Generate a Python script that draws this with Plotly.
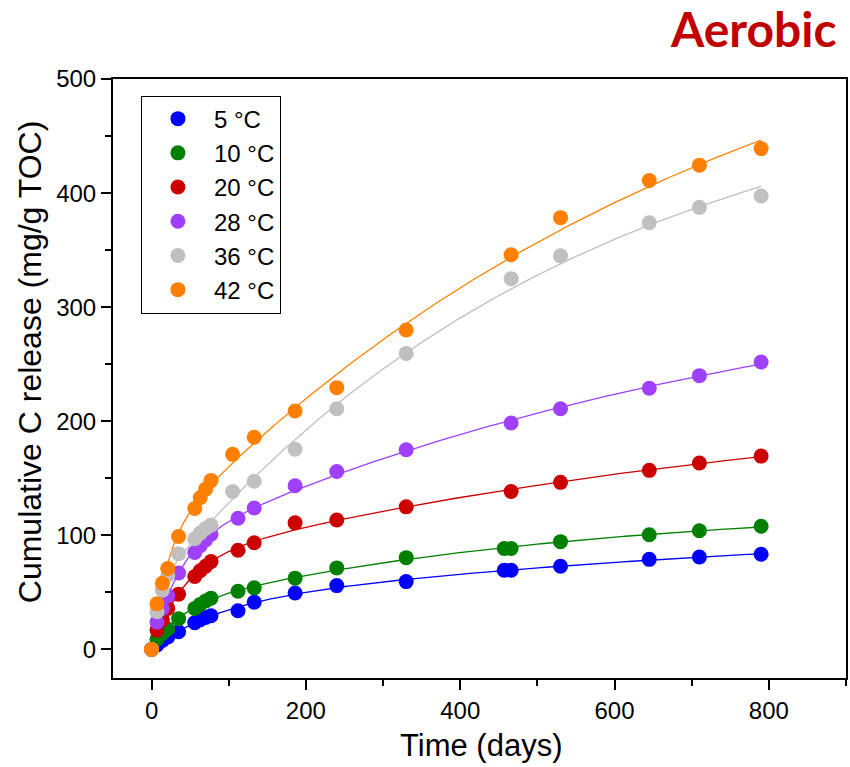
import numpy as np
import plotly.graph_objects as go

# Incubation days and cumulative C release (mg/g TOC) per temperature
days_5 = [0, 7, 14, 21, 35, 56, 63, 70, 77, 112, 133, 186, 240, 330, 457, 466, 530, 645, 710, 790]
c_5 = [0, 4, 8, 11, 15.5, 23.5, 26, 28, 29.5, 34, 41.5, 49.5, 56, 59.5, 69.5, 69.5, 73, 79, 81, 83.5]

days_10 = [0, 7, 14, 21, 35, 56, 63, 70, 77, 112, 133, 186, 240, 330, 457, 466, 530, 645, 710, 790]
c_10 = [0, 9, 14, 18, 27, 36, 39.5, 42.5, 45, 51, 54, 62.5, 71.5, 80.5, 88.5, 88.5, 94.5, 100.5, 104, 108]

days_20 = [0, 7, 14, 21, 35, 56, 63, 70, 77, 112, 133, 186, 240, 330, 466, 530, 645, 710, 790]
c_20 = [0, 17, 26, 36, 48.5, 64, 69, 73, 77, 87, 93.5, 111, 113.5, 125, 138.5, 146.5, 157, 163.5, 169.5]

days_28 = [0, 7, 14, 21, 35, 56, 63, 70, 77, 112, 133, 186, 240, 330, 466, 530, 645, 710, 790]
c_28 = [0, 24, 36, 47, 67, 85, 91, 96, 101, 115, 124, 143.5, 156, 175, 198.5, 211, 229, 240, 252]

days_36 = [0, 7, 14, 21, 35, 56, 63, 70, 77, 105, 133, 186, 240, 330, 466, 530, 645, 710, 790]
c_36 = [0, 33, 52, 65, 84, 97, 102, 106, 109, 138.5, 147.5, 175.5, 211, 259.5, 325, 345, 374, 387.5, 397.5]

days_42 = [0, 7, 14, 21, 35, 56, 63, 70, 77, 105, 133, 186, 240, 330, 466, 530, 645, 710, 790]
c_42 = [0, 40, 58, 71, 99, 123.5, 133, 140.5, 148, 171, 186, 209, 229.5, 280, 346, 378.5, 411, 424.5, 439]

labels = ["5 °C", "10 °C", "20 °C", "28 °C", "36 °C", "42 °C"]
colors = ["#0000FF", "#008000", "#CC0000", "#A040FF", "#C0C0C0", "#FF8000"]
series = [(days_5, c_5), (days_10, c_10), (days_20, c_20),
          (days_28, c_28), (days_36, c_36), (days_42, c_42)]

x_ticks = [0, 200, 400, 600, 800]
y_ticks = [0, 100, 200, 300, 400, 500]


def fit_two_pool(t, y):
    """Least-squares fit of C = A(1-exp(-k1 t)) + B(1-exp(-k2 t))."""
    t = np.asarray(t, float)
    y = np.asarray(y, float)
    k_grid = np.logspace(-4.5, 0, 140)
    best = None
    for i, k1 in enumerate(k_grid):
        for k2 in k_grid[:i]:
            X = np.column_stack([1 - np.exp(-k1 * t), 1 - np.exp(-k2 * t)])
            coef, *_ = np.linalg.lstsq(X, y, rcond=None)
            if (coef < 0).any():
                continue
            sse = float(((X @ coef - y) ** 2).sum())
            if best is None or sse < best[0]:
                best = (sse, k1, k2, coef)
    _, k1, k2, coef = best
    return lambda tt: coef[0] * (1 - np.exp(-k1 * tt)) + coef[1] * (1 - np.exp(-k2 * tt))


fig = go.Figure()

# fitted curves
for (d, c), col in zip(series, colors):
    model = fit_two_pool(d, c)
    tt = np.linspace(0, max(d), 400)
    fig.add_trace(go.Scatter(x=tt, y=model(tt), mode="lines",
                             line=dict(color=col, width=1.3),
                             showlegend=False, hoverinfo="skip"))

# measured points
for (d, c), col, lab in zip(series, colors, labels):
    fig.add_trace(go.Scatter(x=d, y=c, mode="markers", name=lab,
                             marker=dict(color=col, size=15, line=dict(width=0))))

font_main = "Liberation Sans, Arial, sans-serif"
L, R, T, B = 113, 2, 79, 89

fig.update_layout(
    width=850, height=767,
    margin=dict(l=L, r=R, t=T, b=B),
    paper_bgcolor="white", plot_bgcolor="white",
    font=dict(family=font_main, color="black"),
    showlegend=True,
    legend=dict(x=(141 - L) / 735, y=(677.5 - 96) / 598, xanchor="left", yanchor="top",
                bordercolor="black", borderwidth=1, bgcolor="white",
                font=dict(size=24, family=font_main), itemsizing="trace",
                itemwidth=62, tracegroupgap=0),
    xaxis=dict(range=[-50, 900], tickvals=x_ticks, ticks="outside", ticklen=10,
               tickwidth=1.5, tickcolor="black", showline=True, linecolor="black",
               linewidth=2, mirror=True, showgrid=False, zeroline=False,
               tickfont=dict(size=24),
               minor=dict(dtick=100, tick0=0, ticks="outside", ticklen=6,
                          tickwidth=1.5, tickcolor="black")),
    yaxis=dict(range=[-25, 500], tickvals=y_ticks, ticks="outside", ticklen=10,
               tickwidth=1.5, tickcolor="black", showline=True, linecolor="black",
               linewidth=2, mirror=True, showgrid=False, zeroline=False,
               tickfont=dict(size=24),
               minor=dict(dtick=50, tick0=0, ticks="outside", ticklen=6,
                          tickwidth=1.5, tickcolor="black")),
    annotations=[
        dict(text="Time (days)", xref="paper", yref="paper",
             x=(482 - L) / 735, y=(677.5 - 745) / 598, xanchor="center", yanchor="middle",
             showarrow=False, font=dict(size=31, family=font_main)),
        dict(text="Cumulative C release (mg/g TOC)", xref="paper", yref="paper",
             x=(30 - L) / 735, y=(677.5 - 362) / 598, xanchor="center", yanchor="middle",
             textangle=-90, showarrow=False, font=dict(size=32, family=font_main)),
        dict(text="<b>Aerobic</b>", xref="paper", yref="paper",
             x=(841 - L) / 735, y=(677.5 - 29) / 598, xanchor="right", yanchor="middle",
             showarrow=False, font=dict(size=48, family="Lato, Open Sans, sans-serif",
                                        color="#C00000")),
    ],
)

fig.write_html("out.html")
